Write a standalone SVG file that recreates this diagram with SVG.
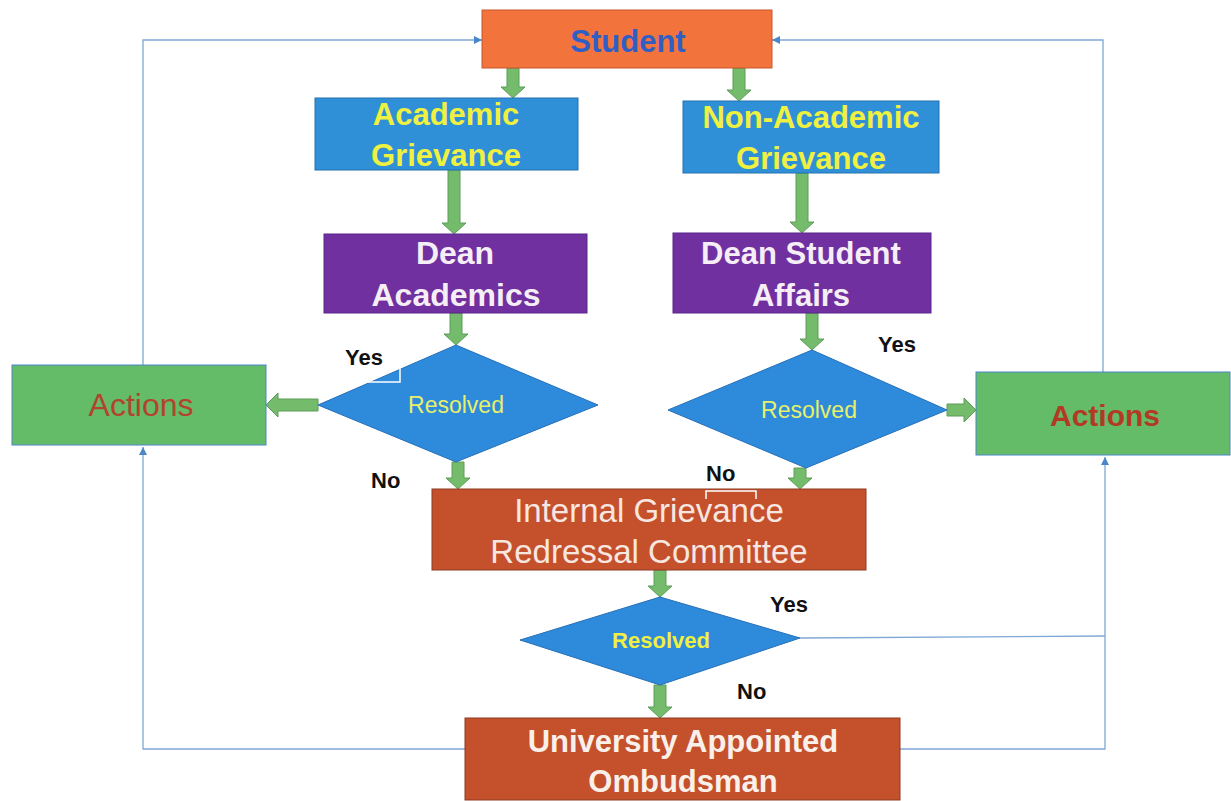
<svg xmlns="http://www.w3.org/2000/svg" width="1231" height="801" viewBox="0 0 1231 801">
<style>
.t{font-family:"Liberation Sans",Arial,sans-serif;text-anchor:middle}
.b{font-weight:bold}
.ga{fill:#74BC6C;stroke:#5C9C58;stroke-width:1}
.ln{fill:none;stroke:#7FA8D6;stroke-width:1.3}
.lbl{font-family:"Liberation Sans",Arial,sans-serif;font-weight:bold;font-size:22px;fill:#111}
</style>
<defs>
<marker id="ah" viewBox="0 0 10 10" refX="10" refY="5" markerWidth="8" markerHeight="8" markerUnits="userSpaceOnUse" orient="auto">
<path d="M0,0 L10,5 L0,10 Z" fill="#4A86C8"/>
</marker>
</defs>
<rect width="1231" height="801" fill="#ffffff"/>

<g id="connectors">
<path class="ln" d="M143,365 V40 H482" marker-end="url(#ah)"/>
<path class="ln" d="M1103,372 V40 H772" marker-end="url(#ah)"/>
<path class="ln" d="M465,749 H143 V447" marker-end="url(#ah)"/>
<path class="ln" d="M900,749 H1105 V457" marker-end="url(#ah)"/>
<path class="ln" d="M800,638 L1105,636"/>
<path class="ga" d="M507,68 H519 V87 H525 L513,98 L501,87 H507 Z"/>
<path class="ga" d="M733,68 H745 V90 H751 L739,101 L727,90 H733 Z"/>
<path class="ga" d="M448,170 H460 V223 H466 L454,234 L442,223 H448 Z"/>
<path class="ga" d="M796,173 H808 V222 H814 L802,233 L790,222 H796 Z"/>
<path class="ga" d="M450,313 H462 V334 H468 L456,345 L444,334 H450 Z"/>
<path class="ga" d="M806,313 H818 V339 H824 L812,350 L800,339 H806 Z"/>
<path class="ga" d="M318,399 V411 H278 V417 L266,405 L278,393 V399 Z"/>
<path class="ga" d="M947,404 V416 H964 V422 L976,410 L964,398 V404 Z"/>
<path class="ga" d="M452,462 H464 V478 H470 L458,489 L446,478 H452 Z"/>
<path class="ga" d="M794,468 H806 V478 H812 L800,489 L788,478 H794 Z"/>
<path class="ga" d="M654,570 H666 V586 H672 L660,597 L648,586 H654 Z"/>
<path class="ga" d="M654,685 H666 V707 H672 L660,718 L648,707 H654 Z"/>
</g>

<g id="student">
<rect x="482" y="10" width="290" height="58" fill="#F3733C" stroke="#C4582C" stroke-width="1"/>
<text class="t b" x="628" y="52" font-size="31" fill="#2F5FC4">Student</text>
</g>

<g id="academic-grievance">
<rect x="315" y="98" width="263" height="72" fill="#2F90D8" stroke="#2570B0" stroke-width="1"/>
<text class="t b" x="446" y="125" font-size="31" fill="#F0F040">Academic</text>
<text class="t b" x="446" y="166" font-size="31" fill="#F0F040">Grievance</text>
</g>

<g id="non-academic-grievance">
<rect x="683" y="101" width="256" height="72" fill="#2F90D8" stroke="#2570B0" stroke-width="1"/>
<text class="t b" x="811" y="128" font-size="31" fill="#F0F040">Non-Academic</text>
<text class="t b" x="811" y="169" font-size="31" fill="#F0F040">Grievance</text>
</g>

<g id="dean-academics">
<rect x="324" y="234" width="263" height="79" fill="#7030A0" stroke="#58248A" stroke-width="1"/>
<text class="t b" x="455" y="264" font-size="32" fill="#F6EEF6">Dean</text>
<text class="t b" x="456" y="306" font-size="32" fill="#F6EEF6">Academics</text>
</g>

<g id="dean-student-affairs">
<rect x="673" y="233" width="258" height="80" fill="#7030A0" stroke="#58248A" stroke-width="1"/>
<text class="t b" x="801" y="264" font-size="31" fill="#F6EEF6">Dean Student</text>
<text class="t b" x="801" y="306" font-size="31" fill="#F6EEF6">Affairs</text>
</g>

<g id="resolved-left">
<polygon points="456,345 598,405 456,462 318,405" fill="#2E8ADA" stroke="#2670B8" stroke-width="1"/>
<polyline points="367,382 400,382 400,365" fill="none" stroke="#ffffff" stroke-width="1.5"/>
<text class="t" x="456" y="413" font-size="23" fill="#E8F06A">Resolved</text>
</g>

<g id="resolved-right">
<polygon points="812,350 947,410 806,468 668,410" fill="#2E8ADA" stroke="#2670B8" stroke-width="1"/>
<text class="t" x="809" y="418" font-size="23" fill="#E8F06A">Resolved</text>
</g>

<g id="actions-left">
<rect x="12" y="365" width="254" height="80" fill="#64BB68" stroke="#4A86C8" stroke-width="1"/>
<text class="t" x="141" y="416" font-size="32" fill="#B2442E">Actions</text>
</g>

<g id="actions-right">
<rect x="976" y="372" width="254" height="83" fill="#64BB68" stroke="#4A86C8" stroke-width="1"/>
<text class="t b" x="1105" y="426" font-size="30" fill="#B23A24">Actions</text>
</g>

<g id="internal-committee">
<rect x="432" y="489" width="434" height="81" fill="#C4502C" stroke="#8E3A22" stroke-width="1"/>
<polyline points="706,499 706,491 756,491 756,499" fill="none" stroke="#ffffff" stroke-width="1.5"/>
<text class="t" x="649" y="522" font-size="33" fill="#F8E6E0">Internal Grievance</text>
<text class="t" x="649" y="563" font-size="33" fill="#F8E6E0">Redressal Committee</text>
</g>

<g id="resolved-bottom">
<polygon points="660,597 800,638 660,685 520,640" fill="#2E8ADA" stroke="#2670B8" stroke-width="1"/>
<text class="t b" x="661" y="648" font-size="22" fill="#F0F040">Resolved</text>
</g>

<g id="ombudsman">
<rect x="465" y="718" width="435" height="82" fill="#C4502C" stroke="#8E3A22" stroke-width="1"/>
<text class="t b" x="683" y="752" font-size="31" fill="#FAF0EA">University Appointed</text>
<text class="t b" x="683" y="792" font-size="31" fill="#FAF0EA">Ombudsman</text>
</g>

<g id="labels">
<text class="lbl" x="345" y="365">Yes</text>
<text class="lbl" x="878" y="352">Yes</text>
<text class="lbl" x="371" y="488">No</text>
<text class="lbl" x="706" y="481">No</text>
<text class="lbl" x="770" y="612">Yes</text>
<text class="lbl" x="737" y="699">No</text>
</g>
</svg>
